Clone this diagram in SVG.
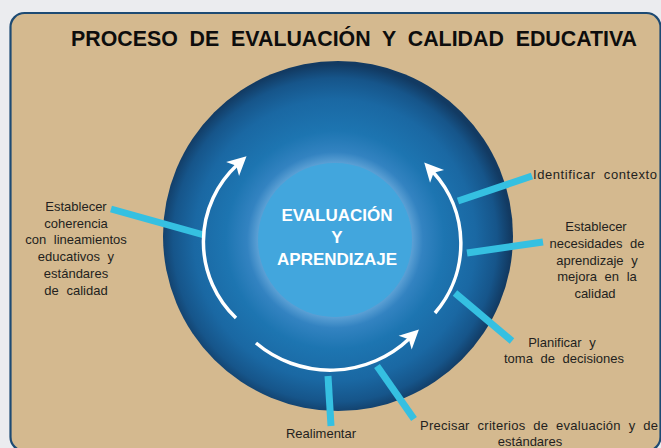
<svg xmlns="http://www.w3.org/2000/svg" width="661" height="448" viewBox="0 0 661 448">
  <defs>
    <radialGradient id="globe" gradientUnits="userSpaceOnUse" cx="335" cy="240" r="176" fx="335" fy="240">
      <stop offset="0" stop-color="#7ab8e4"/>
      <stop offset="0.44" stop-color="#5a9fd4"/>
      <stop offset="0.5" stop-color="#3383c1"/>
      <stop offset="0.62" stop-color="#1d75b1"/>
      <stop offset="0.8" stop-color="#1a68a3"/>
      <stop offset="0.92" stop-color="#16558a"/>
      <stop offset="1" stop-color="#123a62"/>
    </radialGradient>
    <marker id="arrow" markerUnits="userSpaceOnUse" markerWidth="40" markerHeight="40" viewBox="-20 -20 40 40" refX="0" refY="0" orient="auto">
      <path d="M13,0 L-6,-9.5 L-1,0 L-6,9.5 Z" fill="#ffffff"/>
    </marker>
    <style>
      .lbl { font-family: "Liberation Sans", Arial, sans-serif; font-size: 13px; fill: #231f20; word-spacing: 4px; }
      .mid { text-anchor: middle; }
      .conn { stroke: #35c0e1; stroke-width: 7; stroke-linecap: butt; fill: none; }
      .cyc { stroke: #ffffff; stroke-width: 3.5; fill: none; marker-end: url(#arrow); }
      .core { font-family: "Liberation Sans", Arial, sans-serif; font-size: 17px; font-weight: bold; fill: #ffffff; text-anchor: middle; }
    </style>
  </defs>

  <rect x="0" y="0" width="661" height="448" fill="#ebecef"/>
  <rect x="10.5" y="13" width="650" height="438" rx="14" ry="14" fill="#d4b98f" stroke="#1d4a73" stroke-width="2.2"/>

  <text x="71" y="46" textLength="566" lengthAdjust="spacingAndGlyphs" font-family="'Liberation Sans', Arial, sans-serif" font-size="22" font-weight="bold" fill="#0d0d0d" xml:space="preserve">PROCESO  DE  EVALUACIÓN  Y  CALIDAD  EDUCATIVA</text>

  <g id="globe-node">
    <circle cx="338" cy="236" r="175" fill="url(#globe)"/>
  </g>

  <g id="connectors">
    <line class="conn" x1="111" y1="209" x2="204" y2="235"/>
    <line class="conn" x1="458" y1="201" x2="532" y2="176"/>
    <line class="conn" x1="467" y1="253" x2="543" y2="242"/>
    <line class="conn" x1="455" y1="293" x2="512" y2="341"/>
    <line class="conn" x1="377" y1="366" x2="414" y2="419"/>
    <line class="conn" x1="328" y1="376" x2="331" y2="426"/>
  </g>

  <g id="cycle">
    <path class="cyc" d="M236,318 A105,105 0 0 1 237,165"/>
    <path class="cyc" d="M435,313 A106,106 0 0 0 433,172"/>
    <path class="cyc" d="M256,343 A115,115 0 0 0 409.5,338.5"/>
  </g>

  <g id="core">
    <circle cx="335" cy="240" r="77" fill="#42a6dd"/>
    <text class="core" x="337" y="221">EVALUACIÓN</text>
    <text class="core" x="337" y="243">Y</text>
    <text class="core" x="337" y="265">APRENDIZAJE</text>
  </g>

  <g id="n-coherencia">
    <text class="lbl mid" x="76" y="211">Establecer</text>
    <text class="lbl mid" x="76" y="227.5">coherencia</text>
    <text class="lbl mid" x="76" y="244">con lineamientos</text>
    <text class="lbl mid" x="76" y="261">educativos y</text>
    <text class="lbl mid" x="76" y="278">estándares</text>
    <text class="lbl mid" x="76" y="295">de calidad</text>
  </g>

  <g id="n-contexto">
    <text class="lbl" x="533" y="179" textLength="124">Identificar contexto</text>
  </g>

  <g id="n-necesidades">
    <text class="lbl mid" x="596" y="231">Establecer</text>
    <text class="lbl mid" x="597" y="248">necesidades de</text>
    <text class="lbl mid" x="597" y="264.5">aprendizaje y</text>
    <text class="lbl mid" x="597" y="281">mejora en la</text>
    <text class="lbl mid" x="595" y="298">calidad</text>
  </g>

  <g id="n-planificar">
    <text class="lbl mid" x="562" y="347">Planificar y</text>
    <text class="lbl mid" x="564" y="363">toma de decisiones</text>
  </g>

  <g id="n-precisar">
    <text class="lbl" x="420" y="430" textLength="238">Precisar criterios de evaluación y de</text>
    <text class="lbl mid" x="530" y="446">estándares</text>
  </g>

  <g id="n-realimentar">
    <text class="lbl mid" x="321" y="438">Realimentar</text>
  </g>
</svg>
